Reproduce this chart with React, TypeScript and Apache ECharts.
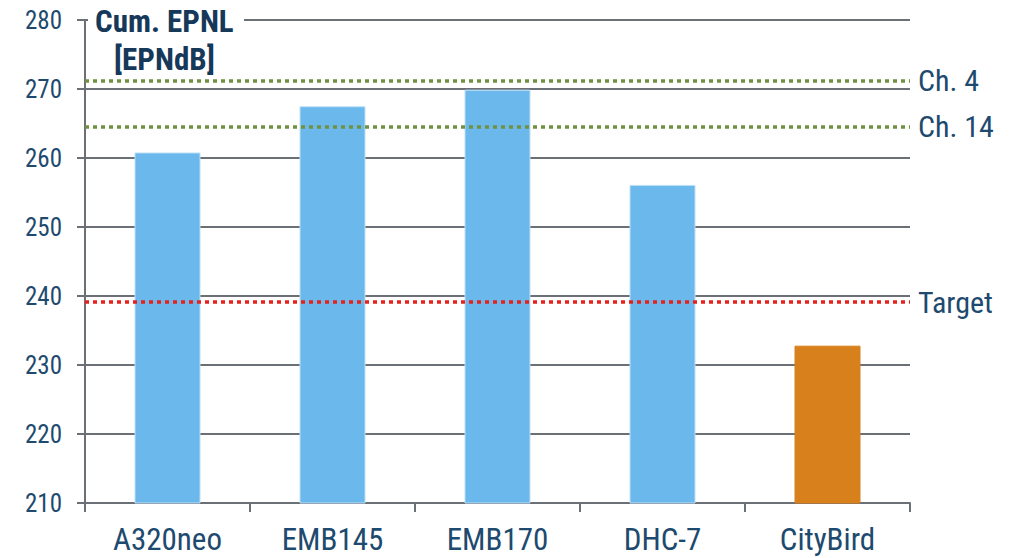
import React, { useEffect, useRef } from "react";
import * as echarts from "echarts";

const categories = ["A320neo", "EMB145", "EMB170", "DHC-7", "CityBird"];
const values = [260.8, 267.5, 269.9, 256.1, 232.8];
const barColors = ["#6bb8ec", "#6bb8ec", "#6bb8ec", "#6bb8ec", "#d8801c"];
const refNames = ["Ch. 4", "Ch. 14", "Target"];
const refValues = [271.2, 264.5, 239.1];
const refColors = ["#6f9140", "#6f9140", "#e8201c"];
const yTicks = { min: 210, max: 280, interval: 10 };

const FONT = "'Liberation Sans Narrow', 'Arial Narrow', 'Roboto Condensed', 'Liberation Sans', sans-serif";
const NAVY = "#1d4a6e";
const GRID = "#6b6f76";

export default function App() {
  const ref = useRef<HTMLDivElement>(null);
  useEffect(() => {
    if (!ref.current) return;
    const chart = echarts.init(ref.current, undefined, { renderer: "svg" });
    chart.setOption({
      animation: false,
      grid: { left: 85, right: 110, top: 20, bottom: 55 },
      xAxis: {
        type: "category",
        data: categories,
        axisLine: { lineStyle: { color: GRID, width: 2 } },
        axisTick: { show: true, length: 9, lineStyle: { color: GRID, width: 2 } },
        axisLabel: { color: NAVY, fontSize: 31, fontFamily: FONT, margin: 21 },
      },
      yAxis: {
        type: "value",
        min: yTicks.min,
        max: yTicks.max,
        interval: yTicks.interval,
        axisLine: { show: true, lineStyle: { color: GRID, width: 2 } },
        axisTick: { show: true, length: 8, lineStyle: { color: GRID, width: 2 } },
        axisLabel: { color: NAVY, fontSize: 25, fontFamily: FONT, margin: 23 },
        splitLine: { lineStyle: { color: GRID, width: 2 } },
      },
      series: [
        {
          type: "bar",
          barWidth: 66,
          data: values.map((v, i) => ({
            value: v,
            itemStyle: {
              color: barColors[i],
              borderColor: i < 4 ? "#bfe0f6" : barColors[i],
              borderWidth: 1,
            },
          })),
          markLine: {
            silent: true,
            symbol: "none",
            data: refNames.map((n, i) => ({
              name: n,
              yAxis: refValues[i],
              lineStyle: { color: refColors[i], width: 3.5, type: [4, 4] },
            })),
            label: {
              show: true,
              position: "end",
              formatter: "{b}",
              color: NAVY,
              fontSize: 30,
              fontFamily: FONT,
              distance: 8,
            },
          },
        },
      ],
      graphic: [
        {
          type: "rect",
          left: 88,
          top: 8,
          shape: { width: 156, height: 34 },
          style: { fill: "#ffffff" },
          z: 50,
        },
        {
          type: "text",
          left: 95,
          top: 2,
          z: 51,
          style: {
            text: "Cum. EPNL\n[EPNdB]",
            fill: "#16395a",
            font: `bold 31px ${FONT}`,
            textAlign: "center",
            lineHeight: 38,
          },
        },
      ],
    });
    return () => chart.dispose();
  }, []);
  return (
    <div
      ref={ref}
      style={{ position: "absolute", left: 0, top: 0, width: 1020, height: 558 }}
    />
  );
}
